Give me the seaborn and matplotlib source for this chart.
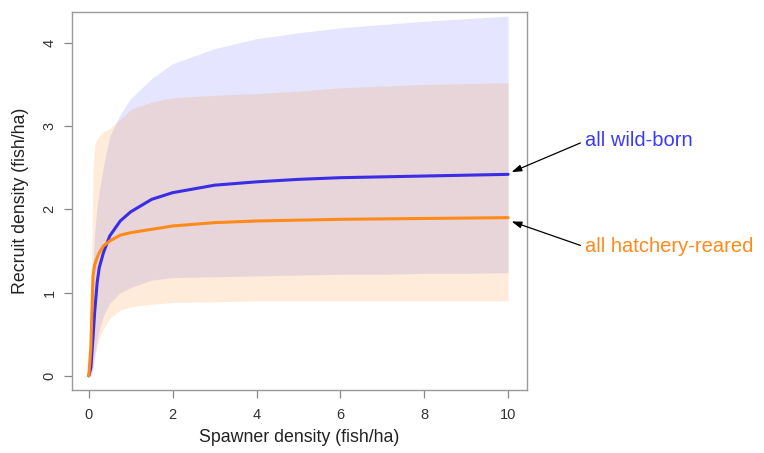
import numpy as np
import pandas as pd
import matplotlib
matplotlib.use("Agg")
import matplotlib.pyplot as plt
import seaborn as sns

# spawner density grid (fish/ha)
spawners = [0, 0.05, 0.1, 0.14, 0.2, 0.25, 0.35, 0.5, 0.75, 1, 1.5, 2, 3, 4, 5, 6, 7, 8, 9, 10]

# median recruit curves
wild_mid = [0, 0.1, 0.45, 0.76, 1.12, 1.3, 1.48, 1.68, 1.86, 1.97, 2.12, 2.2, 2.29, 2.33, 2.36, 2.38, 2.39, 2.4, 2.41, 2.42]
hatch_mid = [0, 0.35, 1.2, 1.33, 1.42, 1.48, 1.56, 1.62, 1.69, 1.72, 1.76, 1.8, 1.84, 1.86, 1.87, 1.88, 1.885, 1.89, 1.895, 1.9]

# credible bands
wild_lo = [0, 0.0, 0.07, 0.25, 0.43, 0.55, 0.72, 0.87, 1.0, 1.06, 1.15, 1.18, 1.19, 1.2, 1.21, 1.22, 1.22, 1.23, 1.23, 1.24]
wild_hi = [0, 0.6, 1.3, 1.72, 2.05, 2.22, 2.52, 2.88, 3.14, 3.33, 3.57, 3.75, 3.93, 4.05, 4.12, 4.18, 4.22, 4.26, 4.29, 4.32]
hatch_lo = [0, 0.0, 0.1, 0.23, 0.36, 0.45, 0.57, 0.69, 0.79, 0.83, 0.86, 0.88, 0.89, 0.9, 0.9, 0.9, 0.9, 0.9, 0.9, 0.9]
hatch_hi = [0, 0.9, 2.4, 2.78, 2.84, 2.88, 2.93, 2.97, 3.08, 3.2, 3.29, 3.34, 3.37, 3.39, 3.42, 3.46, 3.48, 3.5, 3.51, 3.52]

blue = "#3a2de6"
orange = "#ff8a1a"

sns.set_style("white")
plt.rcParams["font.family"] = ["Liberation Sans", "DejaVu Sans"]

df = pd.DataFrame({
    "S": spawners * 2,
    "R": wild_mid + hatch_mid,
    "group": ["wild"] * len(spawners) + ["hatchery"] * len(spawners),
})

fig = plt.figure(figsize=(7.64, 4.53), dpi=100)
ax = fig.add_axes([72 / 764, 63 / 453, 455 / 764, 378 / 453])

# bands
ax.fill_between(spawners, wild_lo, wild_hi, color="#0000ff", alpha=0.1, linewidth=0)
ax.fill_between(spawners, hatch_lo, hatch_hi, color="#ff7f00", alpha=0.15, linewidth=0)

# curves
sns.lineplot(data=df, x="S", y="R", hue="group", hue_order=["wild", "hatchery"],
             palette={"wild": blue, "hatchery": orange}, linewidth=2.2,
             legend=False, ax=ax)

ax.set_xlim(-0.4, 10.45)
ax.set_ylim(-0.17, 4.37)
ax.set_xticks([0, 2, 4, 6, 8, 10])
ax.set_yticks([0, 1, 2, 3, 4])

for sp in ax.spines.values():
    sp.set_color("#999999")
    sp.set_linewidth(1.0)
ax.tick_params(axis="both", direction="out", length=6, width=0.9, color="#888888",
               labelsize=10.5, labelcolor="#333333", bottom=True, left=True)
ax.tick_params(axis="x", pad=7)
ax.tick_params(axis="y", pad=5, labelrotation=90)
for lab in ax.get_yticklabels():
    lab.set_va("center")

ax.set_xlabel("Spawner density (fish/ha)", fontsize=12.8, color="#222222")
ax.set_ylabel("Recruit density (fish/ha)", fontsize=12.8, color="#222222")
ax.xaxis.set_label_coords(0.5, (390 - 437) / 378)
ax.yaxis.set_label_coords((21 - 72) / 455, 0.5)
ax.xaxis.label.set_va("center")
ax.yaxis.label.set_va("center")

arrow = dict(arrowstyle="-|>,head_length=0.75,head_width=0.25", color="black",
             lw=0.9, shrinkA=1, shrinkB=1, relpos=(0, 0.5), mutation_scale=8)
ax.annotate("all wild-born", xy=(10.05, 2.44), xycoords="data",
            xytext=(585 / 764, 1 - 141 / 453), textcoords="figure fraction",
            ha="left", va="center", fontsize=14.5, color="#3a3aff",
            arrowprops=arrow, annotation_clip=False)
ax.annotate("all hatchery-reared", xy=(10.05, 1.86), xycoords="data",
            xytext=(585 / 764, 1 - 247 / 453), textcoords="figure fraction",
            ha="left", va="center", fontsize=14.5, color="#ff8a1a",
            arrowprops=arrow, annotation_clip=False)

fig.savefig("out.png", dpi=100)
